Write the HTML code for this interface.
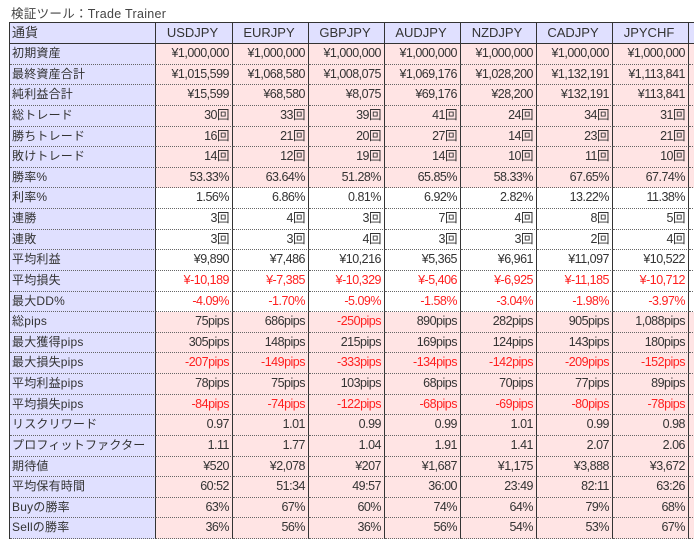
<!DOCTYPE html>
<html><head><meta charset="utf-8"><style>
body{margin:0;width:694px;height:549px;background:#fff;overflow:hidden;font-family:"Liberation Sans","Noto Sans CJK JP",sans-serif;font-size:13px;color:#333;position:relative}
.t{position:absolute;left:11px;top:3px;font-size:12.5px;color:#444;letter-spacing:0.3px}
.g{position:absolute;left:9px;top:22px;display:grid;grid-template-columns:146px 77px 76px 76px 76px 76px 76px 76px 40px;grid-template-rows:21px repeat(24,20.625px);border-top:1px solid #333;border-left:1px solid #333;border-bottom:1px solid #333;box-sizing:border-box;height:517px}
.g div{border-right:1px solid #333;border-bottom:1px dotted #666;box-sizing:border-box;text-align:right;padding-right:3px;line-height:19px;white-space:nowrap;overflow:hidden;background:#ffe4e4;font-size:12.5px;letter-spacing:-0.5px}
.g div.l{background:#e0e0ff;text-align:left;padding-left:2px;font-size:12px;letter-spacing:0.2px}
.g div.h{background:#e0e0ff;text-align:center;border-bottom:1px solid #333;font-size:13px;letter-spacing:0}
.g div.w{background:#fff}
.g div.r{color:#ff2020}
</style></head><body>
<div class="t">検証ツール：Trade Trainer</div>
<div class="g" id="g"></div>
<script>
var cols=["USDJPY","EURJPY","GBPJPY","AUDJPY","NZDJPY","CADJPY","JPYCHF"];
var rows=[
["初期資産","¥1,000,000","¥1,000,000","¥1,000,000","¥1,000,000","¥1,000,000","¥1,000,000","¥1,000,000"],
["最終資産合計","¥1,015,599","¥1,068,580","¥1,008,075","¥1,069,176","¥1,028,200","¥1,132,191","¥1,113,841"],
["純利益合計","¥15,599","¥68,580","¥8,075","¥69,176","¥28,200","¥132,191","¥113,841"],
["総トレード","30回","33回","39回","41回","24回","34回","31回"],
["勝ちトレード","16回","21回","20回","27回","14回","23回","21回"],
["敗けトレード","14回","12回","19回","14回","10回","11回","10回"],
["勝率%","53.33%","63.64%","51.28%","65.85%","58.33%","67.65%","67.74%"],
["利率%","1.56%","6.86%","0.81%","6.92%","2.82%","13.22%","11.38%"],
["連勝","3回","4回","3回","7回","4回","8回","5回"],
["連敗","3回","3回","4回","3回","3回","2回","4回"],
["平均利益","¥9,890","¥7,486","¥10,216","¥5,365","¥6,961","¥11,097","¥10,522"],
["平均損失","¥-10,189","¥-7,385","¥-10,329","¥-5,406","¥-6,925","¥-11,185","¥-10,712"],
["最大DD%","-4.09%","-1.70%","-5.09%","-1.58%","-3.04%","-1.98%","-3.97%"],
["総pips","75pips","686pips","-250pips","890pips","282pips","905pips","1,088pips"],
["最大獲得pips","305pips","148pips","215pips","169pips","124pips","143pips","180pips"],
["最大損失pips","-207pips","-149pips","-333pips","-134pips","-142pips","-209pips","-152pips"],
["平均利益pips","78pips","75pips","103pips","68pips","70pips","77pips","89pips"],
["平均損失pips","-84pips","-74pips","-122pips","-68pips","-69pips","-80pips","-78pips"],
["リスクリワード","0.97","1.01","0.99","0.99","1.01","0.99","0.98"],
["プロフィットファクター","1.11","1.77","1.04","1.91","1.41","2.07","2.06"],
["期待値","¥520","¥2,078","¥207","¥1,687","¥1,175","¥3,888","¥3,672"],
["平均保有時間","60:52","51:34","49:57","36:00","23:49","82:11","63:26"],
["Buyの勝率","63%","67%","60%","74%","64%","79%","68%"],
["Sellの勝率","36%","56%","36%","56%","54%","53%","67%"]];
var h='<div class="l h" style="text-align:left">通貨</div>';
cols.forEach(function(c){h+='<div class="h">'+c+'</div>';});
h+='<div class="h"></div>';
rows.forEach(function(r,i){
 var w=(i>=7&&i<=12)?' w':'';
 h+='<div class="l">'+r[0]+'</div>';
 for(var j=1;j<8;j++){var red=r[j].indexOf('-')>=0?' r':'';h+='<div class="'+w+red+'">'+r[j]+'</div>';}
 h+='<div class="'+w+'"></div>';
});
document.getElementById('g').innerHTML=h;
</script>
</body></html>
